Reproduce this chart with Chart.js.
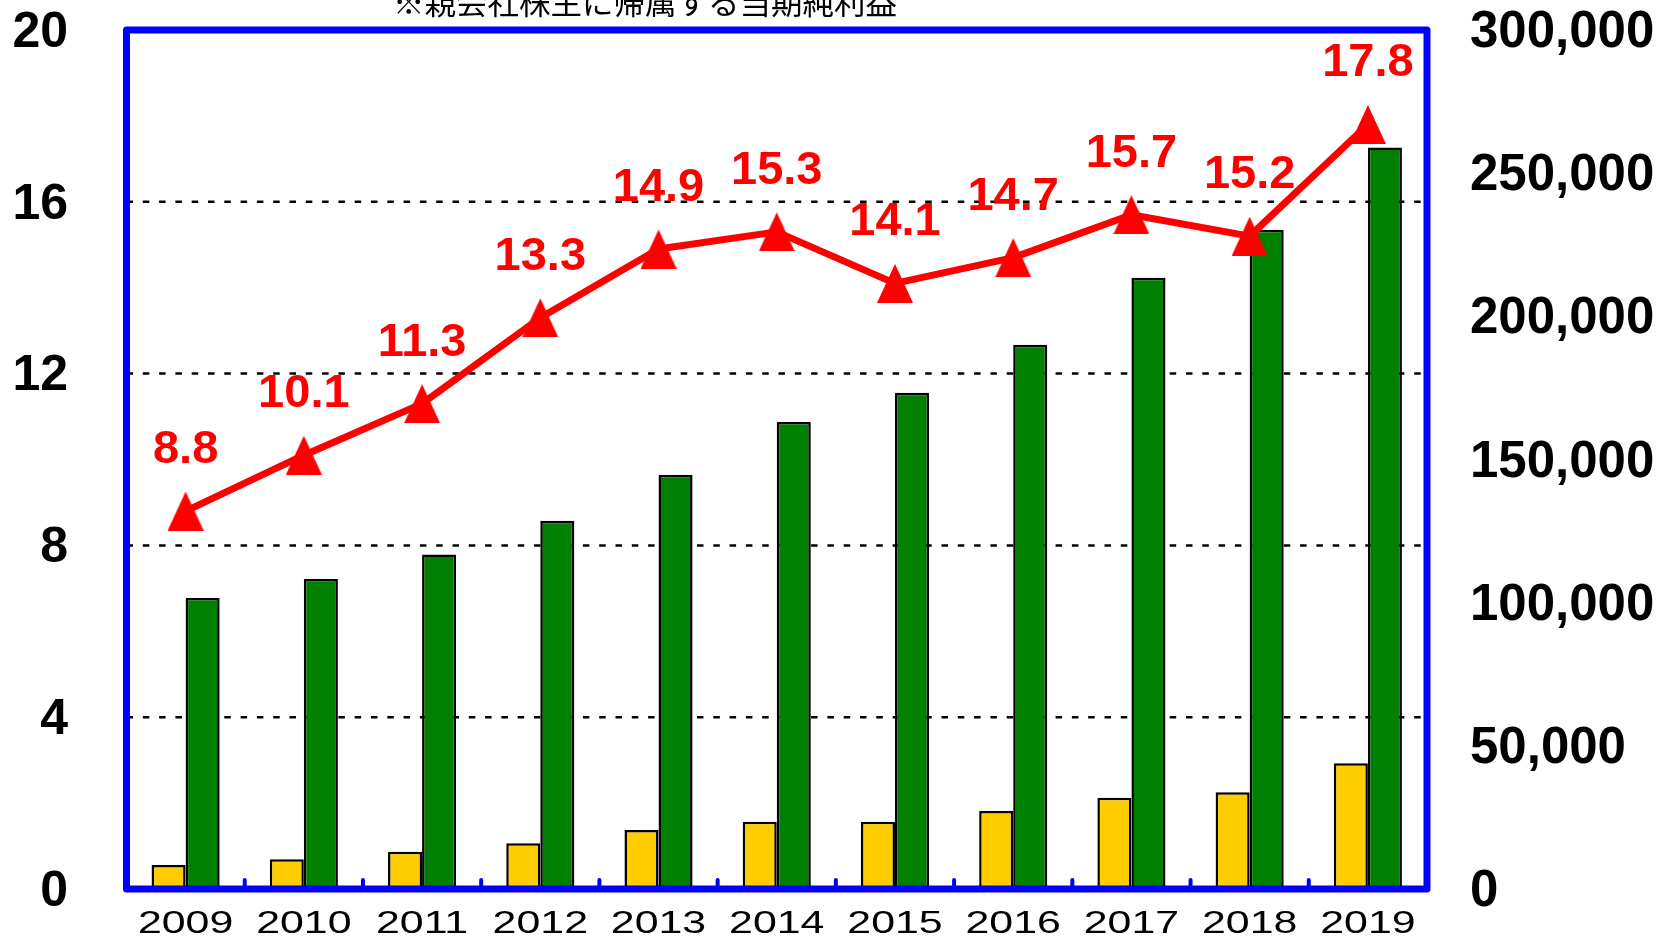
<!DOCTYPE html>
<html>
<head>
<meta charset="utf-8">
<script src="https://cdn.jsdelivr.net/npm/chart.js@4.4.1/dist/chart.umd.min.js"></script>
<style>
html,body{margin:0;padding:0;background:#ffffff;overflow:hidden}
canvas{display:block}
</style>
</head>
<body>
<canvas id="c" width="1675" height="938"></canvas>
<script>
// ---- data ----
const categories = ['2009','2010','2011','2012','2013','2014','2015','2016','2017','2018','2019'];
const salesValues  = [101600, 108300, 116800, 128600, 144600, 163100, 173300, 190100, 213500, 230200, 259000];
const profitValues = [8400, 10400, 13000, 16000, 20600, 23500, 23500, 27200, 31900, 33800, 43900];
const ratioValues  = [8.8, 10.1, 11.3, 13.3, 14.9, 15.3, 14.1, 14.7, 15.7, 15.2, 17.8];
const leftTicks  = [0, 4, 8, 12, 16, 20];
const rightTicks = [0, 50000, 100000, 150000, 200000, 250000, 300000];
const gridValues = [4, 8, 12, 16];
const noteText = '※親会社株主に帰属する当期純利益';

// triangle marker
function makeTriangle() {
  const c = document.createElement('canvas');
  c.width = 36; c.height = 39;
  const g = c.getContext('2d');
  g.fillStyle = '#FF0000';
  g.beginPath();
  g.moveTo(18, 0); g.lineTo(36, 39); g.lineTo(0, 39);
  g.closePath(); g.fill();
  return c;
}
const tri = makeTriangle();

const gridPlugin = {
  id: 'dottedGrid',
  beforeDatasetsDraw(chart) {
    const ctx = chart.ctx, area = chart.chartArea, ys = chart.scales.y;
    ctx.save();
    ctx.strokeStyle = '#000000';
    ctx.lineWidth = 2.5;
    ctx.setLineDash([6.5, 9.8]);
    gridValues.forEach(v => {
      const y = ys.getPixelForValue(v);
      ctx.beginPath(); ctx.moveTo(area.left, y); ctx.lineTo(area.right, y); ctx.stroke();
    });
    ctx.restore();
  }
};

const overlayPlugin = {
  id: 'overlay',
  afterDatasetsDraw(chart) {
    const ctx = chart.ctx, area = chart.chartArea, xs = chart.scales.x;
    ctx.save();
    // frame
    ctx.strokeStyle = '#0000FF';
    ctx.lineWidth = 7;
    ctx.lineJoin = 'round';
    ctx.strokeRect(area.left, area.top, area.right - area.left, area.bottom - area.top);
    // category boundary ticks
    ctx.lineWidth = 4;
    ctx.lineCap = 'round';
    for (let i = 1; i < categories.length; i++) {
      const bx = (xs.getPixelForValue(i - 1) + xs.getPixelForValue(i)) / 2;
      ctx.beginPath(); ctx.moveTo(bx, area.bottom); ctx.lineTo(bx, area.bottom - 9); ctx.stroke();
    }
    // data labels
    const meta = chart.getDatasetMeta(0);
    ctx.fillStyle = '#FF0000';
    ctx.font = 'bold 47px "Liberation Sans", Arial, sans-serif';
    ctx.textAlign = 'center';
    ctx.textBaseline = 'middle';
    meta.data.forEach((pt, i) => {
      ctx.fillText(ratioValues[i].toFixed(1), pt.x, pt.y - 61);
    });
    ctx.restore();
  },
  afterDraw(chart) {
    const ctx = chart.ctx, xs = chart.scales.x;
    ctx.save();
    // category labels (wide style)
    ctx.fillStyle = '#000000';
    ctx.font = '32px "Liberation Sans", Arial, sans-serif';
    ctx.textAlign = 'center';
    ctx.textBaseline = 'alphabetic';
    categories.forEach((c, i) => {
      ctx.save();
      ctx.translate(xs.getPixelForValue(i), 933);
      ctx.scale(1.34, 1);
      ctx.fillText(c, 0, 0);
      ctx.restore();
    });
    // note text, cut at the top
    ctx.font = '31.5px "Noto Sans CJK JP", sans-serif';
    ctx.textAlign = 'left';
    ctx.fillText(noteText, 393, 13.5);
    ctx.restore();
  }
};

new Chart(document.getElementById('c'), {
  data: {
    labels: categories,
    datasets: [
      {
        type: 'line', label: 'ROE', data: ratioValues, yAxisID: 'y', order: 0,
        borderColor: '#FF0000', borderWidth: 7, tension: 0, fill: false,
        pointStyle: tri, pointRadius: 18, pointHoverRadius: 18,
        borderCapStyle: 'round', borderJoinStyle: 'round'
      },
      {
        type: 'bar', label: '当期純利益', data: profitValues, yAxisID: 'y1', order: 1,
        backgroundColor: '#FFCC00', borderColor: '#000000', borderWidth: 2.5,
        categoryPercentage: 0.576, barPercentage: 1.0
      },
      {
        type: 'bar', label: '売上高', data: salesValues, yAxisID: 'y1', order: 1,
        backgroundColor: '#008000', borderColor: '#000000', borderWidth: 2.5,
        categoryPercentage: 0.576, barPercentage: 1.0
      }
    ]
  },
  options: {
    responsive: false,
    animation: false,
    events: [],
    layout: { padding: { top: 30, bottom: 0, left: 0, right: 0 } },
    plugins: { legend: { display: false }, tooltip: { enabled: false }, title: { display: false } },
    scales: {
      x: {
        type: 'category', offset: true,
        grid: { display: false }, border: { display: false },
        ticks: { display: false },
        afterFit(s) { s.height = 49; }
      },
      y: {
        position: 'left', min: 0, max: 20,
        afterBuildTicks(s) { s.ticks = leftTicks.map(v => ({ value: v })); },
        ticks: {
          padding: 0, color: '#000000', labelOffset: 3,
          font: { family: '"Liberation Sans", Arial, sans-serif', size: 50, weight: 'bold', lineHeight: 1 }
        },
        grid: { drawOnChartArea: false, drawTicks: true, tickLength: 58.5, tickColor: 'rgba(0,0,0,0)', color: 'rgba(0,0,0,0)' },
        border: { display: false },
        afterFit(s) { s.width = 126.5; }
      },
      y1: {
        position: 'right', min: 0, max: 300000,
        afterBuildTicks(s) { s.ticks = rightTicks.map(v => ({ value: v })); },
        ticks: {
          padding: 0, color: '#000000', labelOffset: 3,
          callback: v => Number(v).toLocaleString('en-US'),
          font: { family: '"Liberation Sans", Arial, sans-serif', size: 51, weight: 'bold', lineHeight: 1 }
        },
        grid: { drawOnChartArea: false, drawTicks: true, tickLength: 43, tickColor: 'rgba(0,0,0,0)', color: 'rgba(0,0,0,0)' },
        border: { display: false },
        afterFit(s) { s.width = 248; }
      }
    }
  },
  plugins: [gridPlugin, overlayPlugin]
});
</script>
</body>
</html>
